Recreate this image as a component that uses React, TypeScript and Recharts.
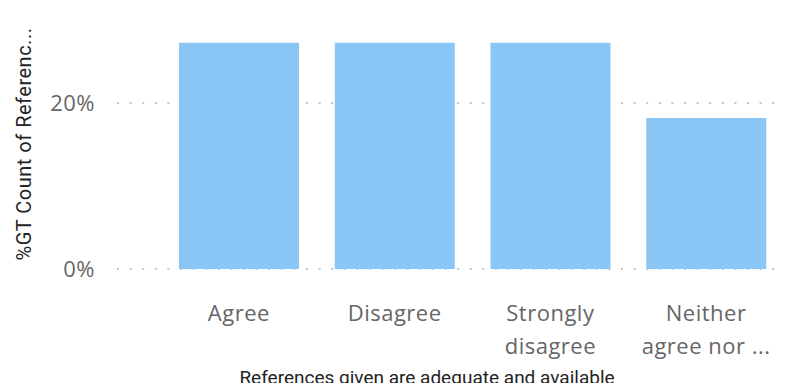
import React from 'react';
import { BarChart, Bar, XAxis, YAxis, CartesianGrid } from 'recharts';

const categories = ['Agree', 'Disagree', 'Strongly disagree', 'Neither agree nor disagree'];
const shares = [0.2727, 0.2727, 0.2727, 0.1818];
const yTicks = [0, 0.2];

const data = categories.map((name, i) => ({ name, share: shares[i] }));

const LABEL_FONT = "'Segoe UI', 'Open Sans', sans-serif";
const TITLE_FONT = "'DIN', Roboto, sans-serif";

// wrap a label into at most two lines, cutting the rest with "..."
const wrapLabel = (label: string, maxChars = 10): string[] => {
    const lines: string[] = [];
    let cur = '';
    for (const w of label.split(' ')) {
        const next = cur ? cur + ' ' + w : w;
        if (next.length > maxChars && cur) {
            lines.push(cur);
            cur = w;
        } else {
            cur = next;
        }
    }
    if (cur) lines.push(cur);
    if (lines.length > 2) return [lines[0], lines[1] + ' ...'];
    return lines;
};

const CategoryTick = (props: any) => {
    const { x, y, payload } = props;
    const lines = wrapLabel(payload.value);
    return (
        <g>
            {lines.map((line, i) => (
                <text key={i} x={x} y={y + 44 + i * 33} textAnchor="middle" fill="#666666"
                    fontSize={22} letterSpacing={0.5} fontFamily={LABEL_FONT}>
                    {line}
                </text>
            ))}
        </g>
    );
};

const App = () => {
    return (
        <div style={{ position: 'absolute', left: 0, top: 0, width: 785, height: 383, background: '#fff', overflow: 'hidden' }}>
            <BarChart width={785} height={383} data={data} margin={{ top: 20, right: 1, bottom: 0, left: 0 }}>
                <CartesianGrid vertical={false} horizontalValues={yTicks} stroke="#C8C8C8" strokeWidth={2} strokeDasharray="2 10.6" />
                <XAxis dataKey="name" height={114} axisLine={false} tickLine={false}
                    padding={{ left: 44, right: 0 }} tick={<CategoryTick />} interval={0} />
                <YAxis width={117} domain={[0, 0.3]} ticks={yTicks} axisLine={false} tickLine={false}
                    tickSize={0} tickMargin={22}
                    tickFormatter={(v: number) => `${Math.round(v * 100)}%`}
                    tick={{ fill: '#666666', fontSize: 22, letterSpacing: 0.5, fontFamily: LABEL_FONT }} />
                <Bar dataKey="share" fill="#8AC7F7" barSize={120} isAnimationActive={false} />
                <text x={24} y={144} transform="rotate(-90 24 144)" textAnchor="middle" dominantBaseline="central"
                    fill="#252423" fontSize={20} letterSpacing={0.5} fontFamily={TITLE_FONT}>
                    %GT Count of Referenc...
                </text>
                <text x={427} y={384} textAnchor="middle" fill="#252423" fontSize={19} fontFamily={TITLE_FONT}>
                    References given are adequate and available
                </text>
            </BarChart>
        </div>
    );
};

export default App;
